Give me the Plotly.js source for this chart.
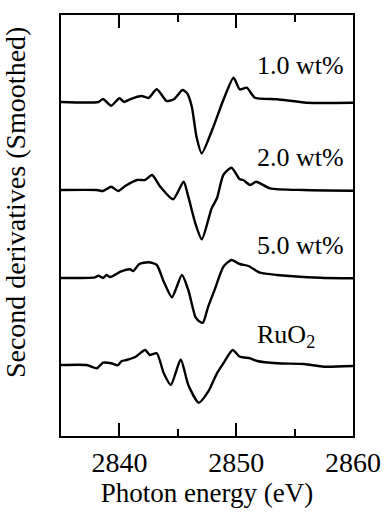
<!DOCTYPE html>
<html>
<head>
<meta charset="utf-8">
<script src="https://cdn.plot.ly/plotly-3.0.1.min.js"></script>
<style>html,body{margin:0;padding:0;background:#fff;}#chart{width:386px;height:516px;}</style>
</head>
<body>
<div id="chart"></div>
<script>
// Photon energy (eV) and second-derivative amplitude (arbitrary units) for each sample
const energy1 = [2835.0,2838.2,2838.6,2839.3,2840.0,2840.4,2840.9,2841.9,2842.5,2843.2,2844.05,2844.7,2845.4,2845.8,2846.2,2846.6,2847.05,2848.05,2848.9,2849.77,2850.3,2850.9,2851.6,2853.5,2856.05,2860.0];
const deriv1  = [0,0,3,-3.7,3.7,0,2.7,6,4,12.7,1,3,12,8.7,-4.7,-34.7,-51.3,-24.7,2,24.3,12.7,14.3,4.3,2.7,-0.7,-0.7];

const energy2 = [2835.0,2838.06,2838.6,2839.3,2839.9,2840.5,2841.5,2842.2,2842.8,2843.5,2844.6,2845.5,2845.9,2846.5,2847.06,2847.9,2848.35,2848.9,2849.6,2850.3,2850.6,2851.2,2851.7,2852.9,2855.8,2860.0];
const deriv2  = [0,0,-1,3.3,-1,4,10,10,15,3.3,-9.3,8.3,-6.7,-33.3,-49.3,-18.3,-8.3,15,22.3,10.7,10,5,8.3,1.7,0,-0.7];

const energy5 = [2835.0,2837.9,2838.2,2838.6,2838.9,2839.2,2840.1,2840.9,2841.2,2841.7,2842.5,2843.2,2843.8,2844.5,2845.35,2845.9,2846.5,2846.8,2847.15,2847.6,2848.2,2848.9,2849.6,2850.3,2851.05,2852.05,2853.5,2857.2,2860.0];
const deriv5  = [0,0.7,2.3,0,3,1,6.3,8.7,7,14,15.7,13,-3.7,-19.3,3,-12,-38.7,-43,-44.7,-28.7,-10.3,11.3,18,14,12,5.3,3,0.3,-0.3];

const energyRu = [2835.0,2837.2,2838.06,2838.6,2839.3,2839.85,2840.2,2840.6,2841.4,2842.2,2842.6,2843.2,2843.8,2844.4,2845.25,2845.9,2846.8,2847.6,2848.35,2848.9,2849.7,2850.3,2851.2,2851.8,2853.5,2855.8,2857.5,2860.0];
const derivRu  = [1,1,-2.3,3.3,2.7,0.7,5,6,9.3,16,11,12.7,-7.3,-19,6.5,-19,-36.7,-25.7,-7.3,2.7,16,9.3,7.7,5,2.7,2,-0.7,0];

const seriesNames = ["1.0 wt%","2.0 wt%","5.0 wt%","RuO<sub>2</sub>"];

const spacing = 88;
const sets = [
  {x: energy1, y: deriv1, off: 3*spacing},
  {x: energy2, y: deriv2, off: 2*spacing},
  {x: energy5, y: deriv5, off: 1*spacing},
  {x: energyRu, y: derivRu, off: 0}
];
const font = "Liberation Serif";
const xRange = [2835, 2860];

const traces = sets.map((s,i) => ({
  x: s.x, y: s.y.map(v => v + s.off), type: 'scatter', mode: 'lines',
  line: {color: '#000', width: 2.4, shape: 'spline', smoothing: 0.6},
  name: seriesNames[i], hoverinfo: 'skip'
}));
// invisible trace on the minor-tick axis so it is drawn
traces.push({x: xRange, y: [0, 0], xaxis: 'x2', type: 'scatter', mode: 'lines',
  line: {color: 'rgba(0,0,0,0)', width: 0}, hoverinfo: 'skip', showlegend: false});

const labelY = [3*spacing+37, 2*spacing+33, spacing+33, 30];
const annotations = seriesNames.map((t,i) => ({
  text: t, x: 2851.6, y: labelY[i], xref: 'x', yref: 'y',
  xanchor: 'left', yanchor: 'middle', showarrow: false,
  font: {family: font, size: 26, color: '#000'}
}));
annotations.push({
  text: 'Second derivatives (Smoothed)', textangle: -90,
  xref: 'paper', yref: 'paper', x: -0.155, y: 0.555,
  xanchor: 'center', yanchor: 'middle', showarrow: false,
  font: {family: font, size: 28, color: '#000'}
});

const layout = {
  width: 386, height: 516,
  margin: {l: 61, r: 33, t: 15, b: 80},
  paper_bgcolor: '#fff', plot_bgcolor: '#fff',
  showlegend: false,
  font: {family: font, color: '#000'},
  xaxis: {
    range: xRange, tickmode: 'linear', tick0: 2840, dtick: 10,
    ticks: 'inside', ticklen: 13, tickwidth: 2, tickcolor: '#000',
    showline: true, linewidth: 2, linecolor: '#000', mirror: 'allticks',
    showgrid: false, zeroline: false,
    tickfont: {family: font, size: 28, color: '#000'},
    title: {text: 'Photon energy (eV)', font: {family: font, size: 27, color: '#000'}, standoff: 6}
  },
  xaxis2: {
    range: xRange, overlaying: 'x', side: 'bottom', anchor: 'y',
    tickmode: 'linear', tick0: 2835, dtick: 5,
    ticks: 'inside', ticklen: 7, tickwidth: 2, tickcolor: '#000',
    showticklabels: false, showline: false, mirror: 'allticks',
    showgrid: false, zeroline: false
  },
  yaxis: {
    range: [-70, 351], showticklabels: false, ticks: '',
    showline: true, linewidth: 2, linecolor: '#000', mirror: true,
    showgrid: false, zeroline: false
  },
  annotations: annotations
};

Plotly.newPlot('chart', traces, layout, {displayModeBar: false, staticPlot: true});
</script>
</body>
</html>
